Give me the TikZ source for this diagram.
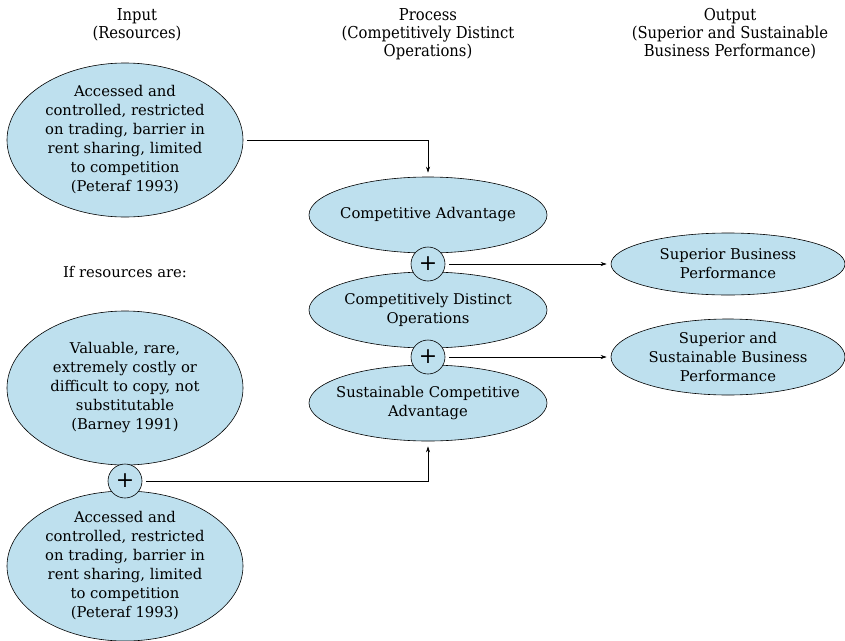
\documentclass[tikz,border=0pt]{standalone}
\usepackage{fontspec}
\setmainfont{DejaVu Serif}
\newfontfamily\headfont[FakeStretch=0.9]{DejaVu Serif}
\usetikzlibrary{shapes.geometric,arrows.meta}
\definecolor{bubble}{RGB}{190,224,238}
\tikzset{
  bub/.style={ellipse,draw=black,fill=bubble,line width=0.6pt,inner xsep=-12pt,inner ysep=-4pt,align=center,
    font=\fontsize{14.8}{19}\selectfont},
  plusc/.style={circle,draw=black,fill=bubble,line width=0.6pt,minimum size=34pt,inner sep=0pt,
    font=\fontsize{22}{22}\selectfont},
  head/.style={align=center,font=\headfont\fontsize{16.4}{18}\selectfont,anchor=north},
  plain/.style={font=\fontsize{14.8}{19}\selectfont},
  arr/.style={-{Stealth[length=6pt,width=4pt]},line width=0.6pt},
}
\begin{document}
\begin{tikzpicture}[x=1pt,y=-1pt]
\useasboundingbox (0,0) rectangle (845,640);
% headers
\node[head] (hin) at (137,5) {Input\\(Resources)};
\node[head] (hpr) at (428,5) {Process\\(Competitively Distinct\\Operations)};
\node[head] (hout) at (730,5) {Output\\(Superior and Sustainable\\Business Performance)};
% input ellipses
\node[bub,minimum width=236pt,minimum height=154pt] (A) at (125,140)
  {Accessed and\\controlled, restricted\\on trading, barrier in\\rent sharing, limited\\to competition\\(Peteraf 1993)};
\node[plain] (if) at (125,272) {If resources are:};
\node[bub,minimum width=236pt,minimum height=154pt] (B) at (125,388)
  {Valuable, rare,\\extremely costly or\\difficult to copy, not\\substitutable\\(Barney 1991)};
\node[bub,minimum width=236pt,minimum height=150pt] (C) at (125,566)
  {Accessed and\\controlled, restricted\\on trading, barrier in\\rent sharing, limited\\to competition\\(Peteraf 1993)};
\node[plusc] (P3) at (125,481) {+};
% process
\node[bub,minimum width=238pt,minimum height=76pt] (CA) at (428,215) {Competitive Advantage};
\node[bub,minimum width=238pt,minimum height=76pt] (CDO) at (428,310) {Competitively Distinct\\Operations};
\node[bub,minimum width=238pt,minimum height=76pt] (SCA) at (428,403) {Sustainable Competitive\\Advantage};
\node[plusc] (P1) at (428,264) {+};
\node[plusc] (P2) at (428,357) {+};
% outputs
\node[bub,minimum width=234pt,minimum height=62pt] (SBP) at (728,264) {Superior Business\\Performance};
\node[bub,minimum width=234pt,minimum height=76pt] (SSBP) at (728,357) {Superior and\\Sustainable Business\\Performance};
% connectors
\draw[arr,shorten <=4pt,shorten >=4pt] (A.east) -| (CA.north);
\draw[arr,shorten <=4pt,shorten >=4pt] (P1.east) -- (SBP.west);
\draw[arr,shorten <=4pt,shorten >=4pt] (P2.east) -- (SSBP.west);
\draw[arr,shorten <=4pt,shorten >=5pt] (P3.east) -| (SCA.south);
\end{tikzpicture}
\end{document}
